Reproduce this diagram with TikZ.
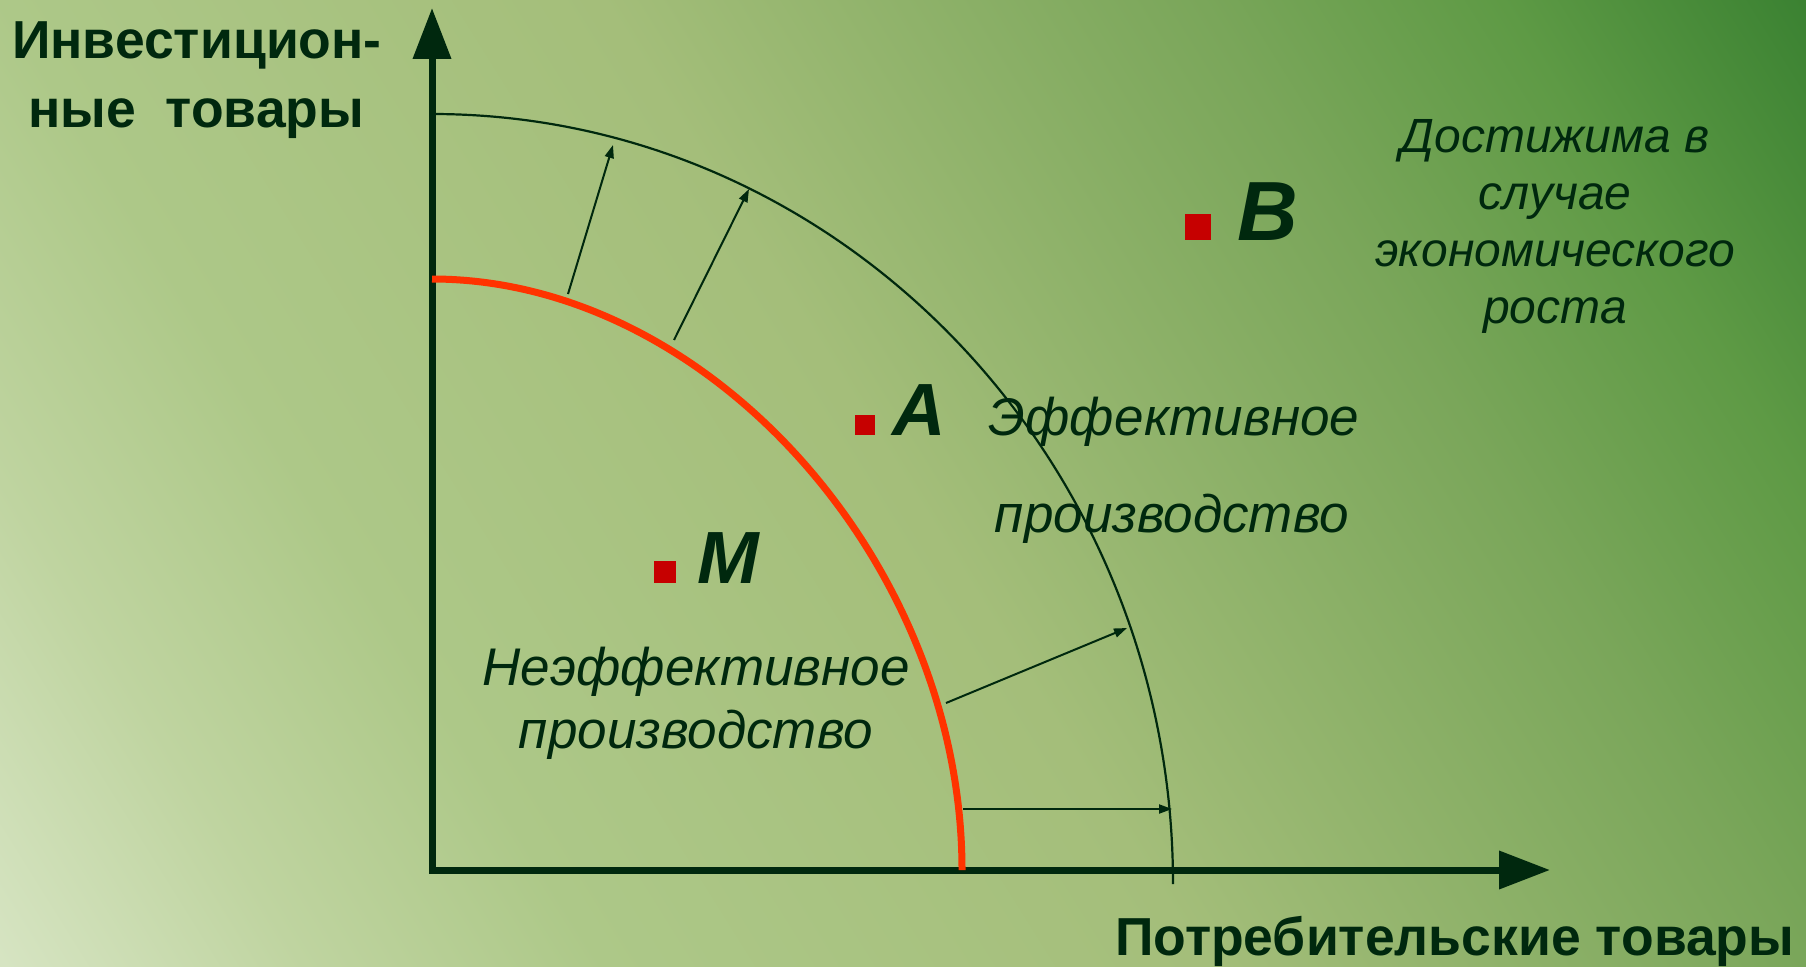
\documentclass[tikz,border=0pt]{standalone}
\usepackage{fontspec}
\setmainfont{Liberation Sans}
\usetikzlibrary{arrows.meta}
\definecolor{ink}{RGB}{0,40,14}
\definecolor{ppfred}{RGB}{255,51,0}
\definecolor{dotred}{RGB}{198,0,0}
\definecolor{bgA}{HTML}{D6E4C2}
\definecolor{bgB}{HTML}{BFD4A0}
\definecolor{bgC}{HTML}{ADC888}
\definecolor{bgD}{HTML}{A4BE7A}
\definecolor{bgE}{HTML}{7AA65A}
\definecolor{bgF}{HTML}{5E9A45}
\definecolor{bgG}{HTML}{3B8232}
\pgfdeclareverticalshading{slidebg}{100bp}{color(0bp)=(bgA); color(25bp)=(bgA); color(31.25bp)=(bgB); color(37.5bp)=(bgC); color(50bp)=(bgD); color(62.5bp)=(bgE); color(68.75bp)=(bgF); color(75bp)=(bgG); color(100bp)=(bgG)}
\tikzset{
  axisline/.style={ink,line width=7pt,line join=miter,{Triangle[length=51pt,width=37pt]}-{Triangle[length=51pt,width=37pt]}},
  ppfold/.style={ppfred,line width=7pt},
  ppfnew/.style={ink,line width=2.2pt},
  growarrow/.style={ink,line width=2pt,-{Triangle[length=13pt,width=9pt]}},
  ptdot/.style={fill=dotred,inner sep=0pt,minimum size=#1},
  ptname/.style={ink,inner sep=0pt,anchor=base west,font=\fontsize{#1}{#1}\selectfont\bfseries\itshape},
  ptname/.default=74,
  axlabel/.style={ink,inner sep=0pt,anchor=base west,font=\fontsize{53.5}{60}\selectfont\bfseries},
  notetext/.style={ink,inner sep=0pt,anchor=base,font=\fontsize{#1}{#1}\selectfont\itshape},
  notetext/.default=53
}
\begin{document}
\begin{tikzpicture}[x=1pt,y=-1pt]
  \useasboundingbox (0,0) rectangle (1806,966);
  % slide background
  \begin{scope}
    \clip (0,0) rectangle (1806,966);
    \shade[shading=slidebg,shading angle=-58] (-119,-539) rectangle (1925,1505);
  \end{scope}

  \coordinate (O) at (432,870);
  \coordinate (ytip) at (432,8);
  \coordinate (xtip) at (1550,870);
  \draw[axisline] (ytip) -- (O) -- (xtip);

  % frontiers
  \draw[ppfnew] (432,114) .. controls (840,114) and (1173,460) .. (1173,884);
  \draw[ppfold] (432,279) .. controls (708,279) and (962,563) .. (962,870);
  \foreach \a/\b in {{568,294}/{613,145},{674,340}/{749,189},{946,703}/{1127,628},{963,809}/{1172,809}}
    \draw[growarrow] (\a) -- (\b);

  % points
  \node[ptdot=26pt] (ptB) at (1198,227) {};
  \node[ptdot=20pt] (ptA) at (865,425) {};
  \node[ptdot=22pt] (ptM) at (665,572) {};
  \node[ptname=84] (labB) at (1237,240) {B};
  \node[ptname] (labA) at (892,435) {A};
  \node[ptname] (labM) at (697,583) {M};

  % texts
  \node[axlabel] (ylab1) at (12,59) {Инвестицион-};
  \node[axlabel] (ylab2) at (28,127) {ные\ \ товары};
  \node[axlabel] (xlab) at (1115,955) {Потребительские товары};
  \node[notetext] (eff1) at (1174,435) {Эффективное};
  \node[notetext] (eff2) at (1172,532) {производство};
  \node[notetext] (ineff1) at (696,685) {Неэффективное};
  \node[notetext] (ineff2) at (696,748) {производство};
  \foreach \txt [count=\i] in {Достижима в,случае,экономического,роста}
    \node[notetext=48] (grow\i) at (1555,{95+57*\i}) {\txt};
\end{tikzpicture}
\end{document}
